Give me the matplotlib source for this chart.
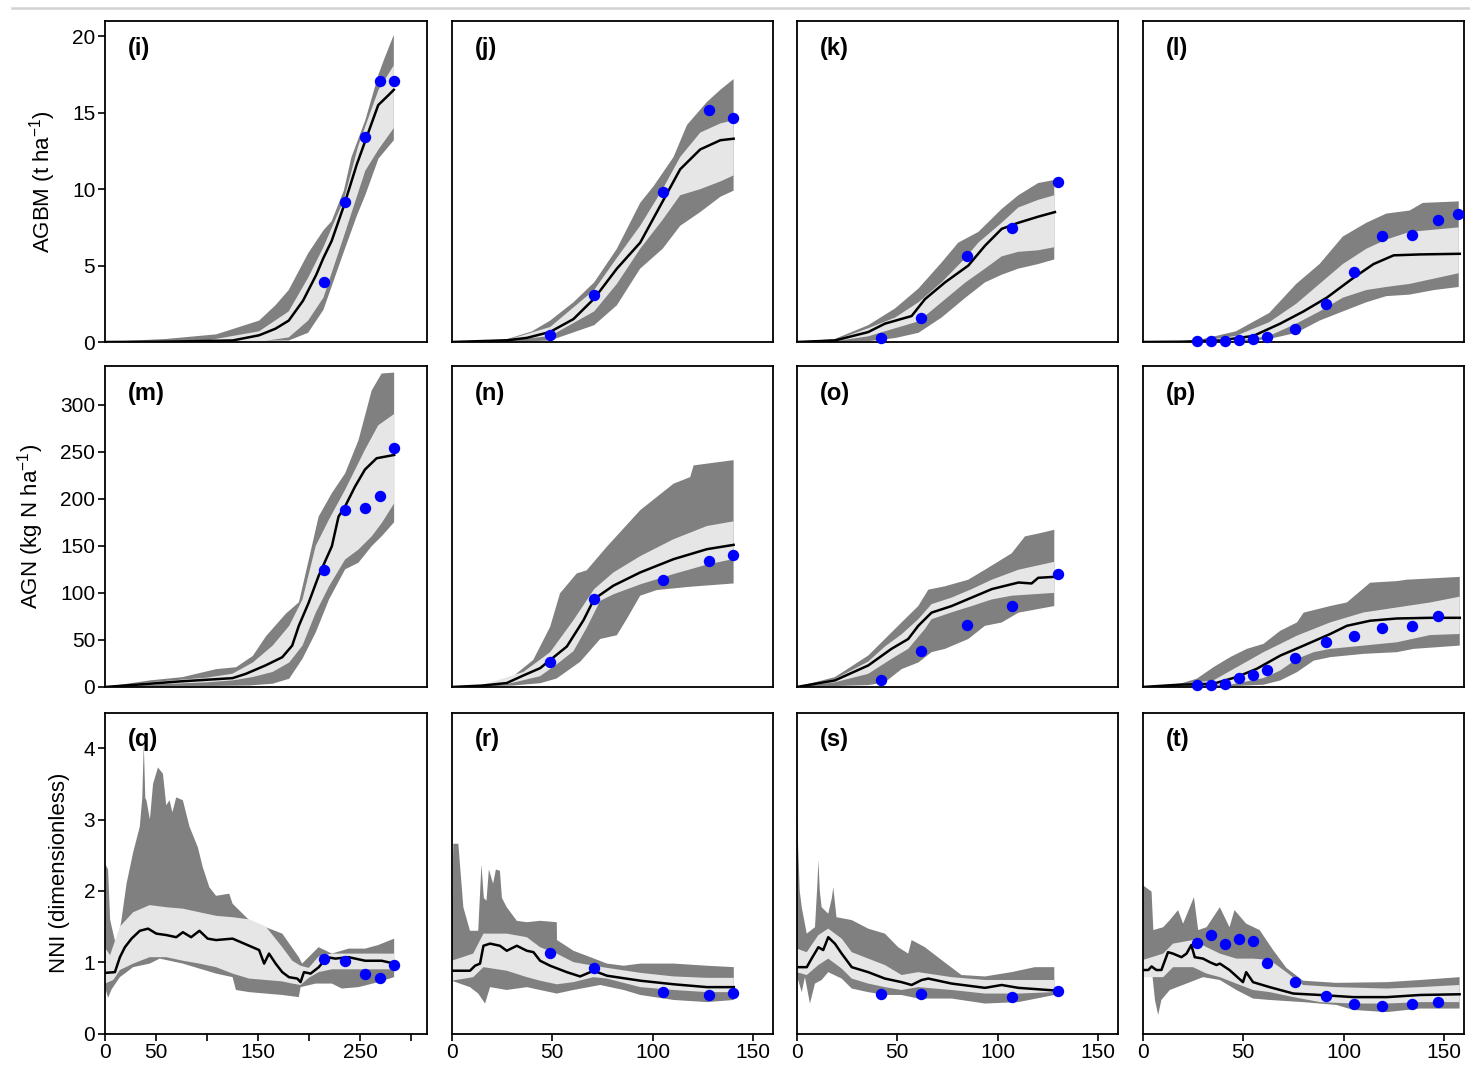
import matplotlib
matplotlib.use('Agg')
import matplotlib.pyplot as plt
from matplotlib.lines import Line2D

plt.rcParams['font.family'] = ['Liberation Sans', 'DejaVu Sans']
plt.rcParams['mathtext.fontset'] = 'custom'
plt.rcParams['mathtext.rm'] = 'Liberation Sans'
plt.rcParams['mathtext.it'] = 'Liberation Sans:italic'

# ---------------- data (day, value) ----------------
# observation days per column
obs_day_c1 = [215, 235, 255, 269, 283]
obs_day_c2 = [49, 71, 105, 128, 140]
obs_day_c3 = [42, 62, 85, 107, 130]
obs_day_s = [42, 62, 107, 130]
obs_day_c4 = [27, 34, 41, 48, 55, 62, 76, 91, 105, 119, 134, 147, 157]

# ---- AGBM (t/ha) ----
i_obs = [3.9, 9.15, 13.4, 17.1, 17.1]
i_mean = [(0, 0), (60, 0.02), (125, 0.1), (151, 0.44), (167, 0.87), (180, 1.4), (194, 2.7), (207, 4.4),
          (214, 5.5), (222, 6.6), (234, 8.9), (246.6, 11.6), (254.7, 13.1), (267.7, 15.5), (277, 16.1), (283, 16.5)]
i_out_hi = [(0, 0), (60, 0.2), (109, 0.5), (151, 1.4), (167, 2.4), (180, 3.4), (199, 5.8), (214, 7.3), (222, 7.9),
            (234, 9.9), (241.5, 12.1), (255, 14.5), (268, 17.5), (273.5, 18.5), (283, 20.1)]
i_out_lo = [(0, 0), (180, 0.1), (199, 0.6), (214, 2.1), (234, 5.9), (247, 8.3), (255, 9.6), (268, 12.0), (283, 13.2)]
i_in_hi = [(0, 0), (100, 0.1), (151, 0.7), (180, 2.0), (199, 4.2), (214, 6.2), (234, 9.3), (248, 12.8),
           (268, 16.5), (283, 18.1)]
i_in_lo = [(0, 0), (150, 0.0), (180, 0.3), (199, 1.4), (214, 2.9), (234, 6.9), (255, 11.2), (268, 12.6), (283, 14.0)]

j_obs = [0.48, 3.05, 9.8, 15.2, 14.67]
j_mean = [(0, 0), (27.4, 0.11), (37.4, 0.27), (49, 0.66), (60.6, 1.5), (70.9, 2.84), (82.2, 4.8), (93.8, 6.5),
          (105, 9.2), (113.7, 11.3), (123.7, 12.6), (133.7, 13.2), (140.3, 13.3)]
j_out_hi = [(0, 0), (27.4, 0.18), (40, 0.7), (49, 1.4), (60.6, 2.6), (70.9, 3.9), (82.2, 6.1), (93.8, 9.1),
            (100.5, 10.2), (110.4, 12.1), (117.1, 14.2), (127, 15.7), (133.7, 16.5), (140.3, 17.2)]
j_in_hi = [(0, 0), (27.4, 0.13), (49, 0.98), (70.9, 3.4), (82.2, 5.5), (93.8, 7.6), (105, 10.0), (113.7, 12.1),
           (123.7, 13.7), (133.7, 14.3), (140.3, 14.5)]
j_in_lo = [(0, 0), (27.4, 0.08), (49, 0.39), (70.9, 2.0), (82.2, 3.8), (93.8, 6.1), (105, 8.0), (113.7, 9.6),
           (123.7, 10.0), (133.7, 10.5), (140.3, 10.9)]
j_out_lo = [(0, 0), (40, 0.05), (49, 0.1), (70.9, 1.1), (82.2, 2.4), (93.8, 4.8), (105, 6.1), (113.7, 7.6),
            (123.7, 8.5), (133.7, 9.5), (140.3, 9.9)]

k_obs = [0.26, 1.57, 5.6, 7.45, 10.46]
k_mean = [(0, 0), (19, 0.1), (35.6, 0.65), (43.9, 1.2), (57.2, 1.7), (63.8, 2.8), (73.8, 3.9), (85.4, 5.0),
          (93.7, 6.3), (102, 7.4), (110.3, 7.8), (120.2, 8.2), (128.5, 8.5)]
k_out_hi = [(0, 0), (19, 0.2), (35.6, 1.1), (49, 2.2), (60.6, 3.5), (72.1, 5.2), (80.4, 6.5), (90.4, 7.2),
            (102, 8.7), (110.3, 9.6), (120.2, 10.4), (128.2, 10.6)]
k_in_hi = [(0, 0), (19, 0.12), (35.6, 0.9), (49, 1.6), (60.6, 2.6), (72.1, 3.9), (84, 5.5), (90.4, 6.5),
           (102, 7.8), (110.3, 8.8), (120.2, 9.3), (128.2, 9.6)]
k_in_lo = [(0, 0), (19, 0.05), (35.6, 0.37), (49, 0.9), (60.6, 1.35), (72.1, 2.6), (84, 3.9), (93.7, 4.8),
           (102, 5.6), (110.3, 5.9), (120.2, 6.0), (128.2, 6.2)]
k_out_lo = [(0, 0), (35.6, 0.05), (49, 0.26), (60.6, 0.6), (72.1, 1.6), (84, 2.9), (93.7, 3.9), (102, 4.4),
            (110.3, 4.8), (120.2, 5.1), (128.2, 5.4)]

l_obs = [0.04, 0.04, 0.09, 0.13, 0.2, 0.3, 0.85, 2.5, 4.6, 6.94, 7.0, 7.96, 8.4]
l_mean = [(0, 0), (20, 0.02), (38.5, 0.1), (55.1, 0.4), (68.4, 1.2), (80, 2.0), (91.6, 2.9), (104.9, 4.2),
          (114.9, 5.1), (124.9, 5.67), (138.2, 5.73), (157.8, 5.77)]
l_out_hi = [(0, 0), (26.9, 0.1), (46.4, 0.7), (63, 1.9), (76.4, 3.8), (88, 5.1), (99.6, 6.9), (111.3, 7.8),
            (121.2, 8.4), (132.8, 8.6), (139.4, 9.1), (157.3, 9.2)]
l_in_hi = [(0, 0), (30, 0.08), (46.4, 0.4), (63, 1.3), (76.4, 2.5), (88, 3.8), (99.6, 5.1), (111.3, 6.1),
           (121.2, 6.7), (132.8, 7.2), (157.3, 7.5)]
l_in_lo = [(0, 0), (46.4, 0.05), (63, 0.4), (76.4, 1.2), (88, 2.0), (99.6, 2.9), (111.3, 3.4), (121.2, 3.6),
           (132.8, 3.8), (157.3, 4.5)]
l_out_lo = [(0, 0), (50, 0.03), (63, 0.2), (76.4, 0.6), (88, 1.4), (99.6, 2.0), (111.3, 2.6), (121.2, 3.0),
            (132.8, 3.1), (145, 3.4), (157.3, 3.6)]

# ---- AGN (kg N/ha) ----
m_obs = [123.9, 187.6, 189.7, 202.4, 253.5]
m_mean = [(0, 0), (43.8, 3.5), (73, 5.9), (124.9, 9.4), (138, 14), (157.4, 23), (173.6, 31.6), (183.4, 44),
          (189.9, 65), (199.6, 89.7), (209.3, 118), (222.3, 149.6), (228.8, 181), (235.3, 192), (245, 213),
          (254.7, 231), (266.1, 243), (283.3, 246.5)]
m_out_hi = [(0, 0), (43.8, 7), (76, 10.5), (109, 19), (128.5, 21), (144.8, 33), (157.8, 54), (177.3, 78),
            (190, 90), (199.6, 135), (209.3, 181), (222.3, 206), (235.3, 227), (248.3, 262), (261.3, 315),
            (271, 333), (283.3, 334)]
m_in_hi = [(0, 0), (43.8, 5), (100, 10), (124.9, 14.1), (144.8, 26), (164.3, 44), (180.5, 65), (193.5, 93),
           (206.5, 150), (219.5, 178), (235.3, 209.6), (254.7, 252), (267.7, 278), (283.3, 290)]
m_in_lo = [(0, 0), (43.8, 2.5), (100, 5), (124.9, 7), (144.8, 10.6), (164.3, 16), (180.5, 26), (193.5, 44),
           (206.5, 79), (219.5, 107), (235.3, 135.5), (248.3, 146), (261.3, 160), (271, 174), (283.3, 195)]
m_out_lo = [(0, 0), (100, 1), (141.6, 1.6), (164.3, 3.5), (180.5, 8.8), (193.5, 30), (206.5, 58), (219.5, 93),
            (235.3, 125), (248.3, 132), (261.3, 149.6), (271, 160), (283.3, 175)]

n_obs = [27, 94, 113.3, 133.7, 139.8]
n_mean = [(0, 0), (15, 1.5), (27.4, 4.2), (35.7, 12.3), (44, 20), (57.3, 43), (65.6, 71), (70.9, 93.5),
          (80.5, 107.7), (93.8, 121.7), (110.4, 135.8), (127, 146.4), (140.3, 151)]
n_out_hi = [(0, 0), (15, 2), (27.4, 5.9), (40.6, 28.8), (49, 64), (53.9, 99.5), (62.2, 120.6), (67.2, 124),
            (77.2, 149), (93.8, 187.8), (110.4, 216), (118.7, 223), (120.4, 235.4), (140.3, 241)]
n_in_hi = [(0, 0), (15, 1.8), (35.7, 16), (49, 37), (60.6, 71), (70.9, 104), (80.5, 121.7), (93.8, 139),
           (110.4, 157), (127, 171), (140.3, 176)]
n_in_lo = [(0, 0), (15, 1), (27.4, 3), (44, 11.5), (52.2, 24), (60.6, 38), (67.2, 63), (73.9, 91.5),
           (80.5, 98.5), (93.8, 109), (110.4, 120), (127, 130), (140.3, 136)]
n_out_lo = [(0, 0), (30, 1.5), (44, 4), (52.2, 9), (63.9, 26.7), (73.9, 51), (82.2, 55), (87.2, 72.5),
            (93.8, 97), (102.1, 103), (118.7, 106.5), (140.3, 110)]

o_obs = [7, 38.7, 66.2, 86.2, 119.7]
o_mean = [(0, 0), (19, 7), (35.6, 22.9), (47.2, 40.6), (55.5, 51), (60.5, 65), (67.1, 79), (77.1, 86),
          (87.1, 95), (97.1, 104), (110.4, 111), (116.9, 110), (120.2, 116), (128.2, 117)]
o_out_hi = [(0, 0), (19, 10.5), (35.6, 33.4), (43.9, 51), (52.2, 68.6), (60.5, 86), (65.5, 103.4), (73.8, 107),
            (85.4, 114), (93.7, 124.6), (107, 142), (113.6, 160), (120.2, 163), (128.2, 167)]
o_in_hi = [(0, 0), (19, 8.5), (35.6, 27), (43.9, 43), (52.2, 56), (60.5, 72), (67.1, 88), (77.1, 95),
           (87.1, 104), (97.1, 114), (110.4, 124.6), (128.2, 133)]
o_in_lo = [(0, 0), (19, 5), (35.6, 14), (47.2, 29.9), (55.5, 40.5), (63.8, 61.6), (67.1, 72), (77.1, 79.3),
           (87.1, 86), (97.1, 93), (107, 97), (128.2, 100)]
o_out_lo = [(0, 0), (19, 1), (35.6, 2), (43.9, 5), (52.2, 19), (60.5, 26), (67.1, 37), (73.8, 40.5),
            (85.4, 51), (93.7, 65), (102, 68.5), (110.4, 79), (128.2, 86)]

p_obs = [2.4, 2.4, 3.5, 9.5, 12.3, 17.6, 30.6, 48.2, 53.8, 62.9, 64.4, 75.6]
p_mean = [(0, 0), (18.6, 2.5), (35.2, 3.5), (46.8, 10.6), (56.8, 19.4), (68.5, 33.4), (80.1, 44), (93.3, 56.3),
          (101.6, 65), (113.2, 70.4), (126.5, 72.8), (143.1, 73.5), (157.8, 73.5)]
p_out_hi = [(0, 0), (18.6, 3.5), (26.9, 8.8), (35.2, 21), (43.5, 31.7), (51.8, 40.5), (60.1, 45.8),
            (68.5, 59.8), (76.8, 68.6), (80.1, 79), (93.3, 86), (101.6, 89.8), (113.2, 110.8), (126.5, 112.5),
            (131.5, 114), (157.8, 117)]
p_in_hi = [(0, 0), (18.6, 3), (35.2, 7), (46.8, 21), (60.1, 37), (68.5, 45.8), (76.8, 54.6), (93.3, 68.6),
           (109.9, 79.2), (126.5, 84.5), (143.1, 89.8), (157.8, 96)]
p_in_lo = [(0, 0), (18.6, 2), (35.2, 2.4), (43.5, 2.4), (60.1, 9.5), (68.5, 17.6), (76.8, 30), (85.1, 37),
           (93.3, 40.5), (109.9, 44), (126.5, 47.5), (143.1, 55.2), (157.8, 56.3)]
p_out_lo = [(0, 0), (40, 0.5), (60.1, 2.4), (68.5, 7), (76.8, 15.8), (85.1, 28), (93.3, 31.7), (109.9, 35.2),
            (126.5, 37), (134.8, 40.5), (157.8, 44)]

# ---- NNI (dimensionless) ----
q_obs = [1.05, 1.01, 0.83, 0.78, 0.96]
q_mean = [(0, 0.85), (9.7, 0.86), (14.6, 1.07), (19.5, 1.21), (26, 1.33), (34.1, 1.44), (42.2, 1.47),
          (50.3, 1.4), (60.1, 1.38), (69.8, 1.35), (76.3, 1.42), (84.4, 1.35), (92.5, 1.44), (100.6, 1.33),
          (108.8, 1.31), (125, 1.33), (136.4, 1.26), (144.5, 1.21), (151, 1.17), (155.9, 0.98), (160.7, 1.12),
          (167.2, 0.98), (173.7, 0.86), (180.2, 0.79), (188.4, 0.77), (191.6, 0.72), (194.9, 0.86),
          (201.4, 0.84), (209.5, 0.93), (217.6, 1.07), (225.7, 1.05), (238.7, 1.07), (254.9, 1.02),
          (271.1, 1.02), (283.3, 0.98)]
q_out_hi = [(0, 2.38), (3, 2.3), (5, 1.6), (6.5, 1.5), (11.4, 1.2), (16.2, 1.6), (21.1, 2.1), (27.6, 2.54),
            (34.1, 2.9), (36.5, 3.3), (38, 4.06), (39.5, 3.3), (40.6, 3.27), (44, 3.0), (47.1, 3.5),
            (51.9, 3.73), (56.8, 3.64), (60, 3.2), (63.3, 3.27), (66, 3.1), (69.8, 3.31), (76.3, 3.27),
            (82.8, 2.9), (91, 2.61), (95.8, 2.33), (102.3, 2.05), (108.8, 1.93), (121.7, 1.96), (125, 1.82),
            (141.2, 1.59), (157.5, 1.49), (173.7, 1.4), (189.9, 1.07), (193.1, 0.98), (209.3, 1.21),
            (222.3, 1.12), (238.7, 1.19), (254.9, 1.19), (267.7, 1.24), (283.3, 1.33)]
q_in_hi = [(0, 1.2), (5, 1.1), (14.6, 1.5), (27.6, 1.7), (43.8, 1.8), (60.1, 1.77), (76.3, 1.75), (92.5, 1.7),
           (108.8, 1.65), (125, 1.63), (141.2, 1.6), (157.5, 1.5), (173.7, 1.21), (183.5, 1.02), (191.6, 0.95),
           (199.6, 0.92), (209.3, 1.08), (222.3, 1.12), (254.9, 1.12), (283.3, 1.12)]
q_in_lo = [(0, 0.7), (8.1, 0.75), (14.6, 0.89), (27.6, 0.98), (43.8, 1.07), (60.1, 1.07), (76.3, 1.02),
           (92.5, 0.98), (108.8, 0.93), (125, 0.84), (141.2, 0.77), (157.5, 0.75), (173.7, 0.73), (183.5, 0.7),
           (191.6, 0.68), (199.6, 0.78), (209.3, 0.86), (222.3, 0.9), (254.9, 0.9), (283.3, 0.9)]
q_out_lo = [(0, 0.65), (3, 0.5), (6.5, 0.62), (14.6, 0.79), (27.6, 0.93), (43.8, 0.98), (53.6, 1.05),
            (76.3, 0.98), (92.5, 0.91), (108.8, 0.84), (125, 0.79), (128.3, 0.61), (141.2, 0.58), (157.5, 0.56),
            (173.7, 0.54), (189.9, 0.51), (191.6, 0.65), (206.5, 0.7), (222.3, 0.7), (232, 0.63), (248.4, 0.65),
            (267.7, 0.72), (283.3, 0.79)]

r_obs = [1.13, 0.92, 0.58, 0.54, 0.57]
r_mean = [(0, 0.88), (9.1, 0.88), (11.6, 0.95), (14.1, 0.98), (15.8, 1.23), (19.1, 1.26), (24, 1.23),
          (27.4, 1.16), (32.4, 1.23), (37.4, 1.16), (40.7, 1.14), (44, 1.02), (49, 0.95), (57.3, 0.86),
          (63.9, 0.8), (70.6, 0.88), (77.3, 0.81), (93.9, 0.74), (110.5, 0.69), (127.1, 0.65), (140.4, 0.65)]
r_out_hi = [(0, 1.5), (0.8, 2.66), (3.3, 2.66), (5.8, 1.77), (9.1, 1.44), (13.2, 1.44), (14.8, 2.37), (16, 1.9),
            (17.3, 1.86), (18.5, 2.3), (20.6, 2.1), (22, 2.3), (24, 2.28), (25, 1.9), (27.4, 1.77), (32.4, 1.58),
            (37.4, 1.56), (44, 1.58), (52.3, 1.56), (52.4, 1.31), (60.6, 1.16), (69, 1.07), (77.3, 0.98),
            (85.6, 0.95), (93.9, 0.98), (110.5, 0.98), (127.1, 0.95), (140.4, 0.93)]
r_in_hi = [(0, 1.02), (10.7, 1.12), (15.8, 1.4), (27.4, 1.4), (37.4, 1.35), (44, 1.21), (52.3, 1.12),
           (60.6, 1.0), (70.6, 0.95), (77.3, 0.92), (93.9, 0.85), (110.5, 0.8), (127.1, 0.78), (140.4, 0.78)]
r_in_lo = [(0, 0.74), (10.7, 0.79), (15.8, 0.93), (27.4, 0.88), (37.4, 0.79), (44, 0.74), (52.3, 0.69),
           (60.6, 0.72), (70.6, 0.79), (77.3, 0.77), (93.9, 0.65), (110.5, 0.61), (127.1, 0.58), (140.4, 0.58)]
r_out_lo = [(0, 0.74), (9.1, 0.65), (13.2, 0.56), (16.6, 0.42), (19.1, 0.65), (27.4, 0.61), (37.4, 0.65),
            (44, 0.61), (52.3, 0.56), (60.6, 0.61), (73.9, 0.68), (85.6, 0.61), (93.9, 0.54), (110.5, 0.47),
            (127.1, 0.44), (140.4, 0.47)]

s_obs = [0.56, 0.55, 0.51, 0.6]
s_mean = [(0, 0.93), (5, 0.93), (7.4, 1.05), (10.8, 1.21), (13.2, 1.17), (15.7, 1.35), (19, 1.26), (22.4, 1.12),
          (27.4, 0.93), (35.6, 0.86), (43.9, 0.77), (52.2, 0.72), (57.2, 0.68), (62.2, 0.75), (65.5, 0.77),
          (77.1, 0.7), (93.7, 0.64), (102, 0.68), (110.3, 0.64), (129.9, 0.6)]
s_out_hi = [(0, 3.2), (1.5, 2.0), (2.5, 1.77), (5, 1.4), (9.1, 1.49), (10.3, 2.1), (10.8, 2.43), (11.5, 2.0),
            (12.4, 1.77), (15.7, 1.68), (17.5, 1.9), (18.2, 2.05), (19.8, 1.63), (27.4, 1.59), (35.6, 1.47),
            (43.9, 1.4), (50.5, 1.21), (55.5, 1.12), (57.2, 1.31), (63.8, 1.21), (72.1, 1.03), (82, 0.82),
            (93.7, 0.8), (106.9, 0.86), (118.5, 0.93), (128.2, 0.93)]
s_in_hi = [(0, 1.19), (5, 1.14), (10.8, 1.38), (15.7, 1.47), (22.4, 1.33), (27.4, 1.14), (35.6, 1.05),
           (43.9, 0.96), (52.2, 0.82), (60.5, 0.86), (77.1, 0.79), (93.7, 0.75), (110.3, 0.75), (128.2, 0.75)]
s_in_lo = [(0, 0.86), (5, 0.82), (10.8, 0.96), (15.7, 1.05), (22.4, 0.91), (27.4, 0.77), (35.6, 0.7),
           (43.9, 0.65), (52.2, 0.61), (60.5, 0.65), (77.1, 0.61), (93.7, 0.56), (110.3, 0.56), (128.2, 0.58)]
s_out_lo = [(0, 0.82), (2.5, 0.58), (4.1, 0.79), (6.6, 0.42), (9.1, 0.7), (12.4, 0.75), (15.7, 0.86),
            (22.4, 0.77), (27.4, 0.63), (35.6, 0.58), (43.9, 0.54), (52.2, 0.54), (60.5, 0.49), (77.1, 0.49),
            (93.7, 0.42), (110.3, 0.44), (128.2, 0.54)]

t_obs = [1.27, 1.38, 1.26, 1.32, 1.30, 0.99, 0.72, 0.53, 0.42, 0.39, 0.41, 0.44]
t_mean = [(0, 0.89), (2.8, 0.89), (4.4, 0.94), (6.8, 0.89), (9.3, 0.89), (12.6, 1.14), (15.1, 1.12),
          (19.3, 1.07), (21.8, 1.12), (24.2, 1.24), (25.9, 1.07), (30, 1.05), (33.4, 1.0), (36.7, 0.96),
          (38.4, 0.98), (43.2, 0.89), (49.9, 0.72), (51.5, 0.86), (54.9, 0.72), (63.2, 0.65), (75, 0.56),
          (88.3, 0.54), (104.9, 0.51), (121.5, 0.51), (138.1, 0.54), (157.7, 0.55)]
t_out_hi = [(0, 2.08), (4.4, 1.99), (5.3, 1.45), (10.2, 1.49), (13.5, 1.59), (17.6, 1.73), (20.1, 1.54),
            (25.5, 1.91), (27.6, 1.45), (31.8, 1.49), (38.4, 1.77), (43.2, 1.49), (45.7, 1.73), (51.5, 1.54),
            (58.2, 1.45), (64.9, 1.17), (71.5, 0.92), (79.8, 0.74), (96.4, 0.71), (121.5, 0.72),
            (138.1, 0.75), (157.7, 0.79)]
t_in_hi = [(0, 1.03), (10.2, 1.12), (15.1, 1.26), (25, 1.31), (31.8, 1.21), (38.4, 1.12), (46.6, 1.05),
           (54.9, 1.05), (63.2, 1.03), (71.5, 0.86), (79.8, 0.68), (96.4, 0.65), (121.5, 0.63), (138.1, 0.65),
           (157.7, 0.68)]
t_in_lo = [(0, 0.79), (10.2, 0.79), (15.1, 0.93), (25, 0.93), (31.8, 0.84), (38.4, 0.79), (46.6, 0.7),
           (54.9, 0.61), (63.2, 0.58), (75, 0.51), (88.3, 0.44), (104.9, 0.42), (121.5, 0.42), (138.1, 0.44),
           (157.7, 0.44)]
t_out_lo = [(0, 0.89), (4.4, 0.93), (6.1, 0.47), (7.7, 0.26), (9.3, 0.47), (13.5, 0.61), (21.8, 0.7),
            (30, 0.79), (38.4, 0.75), (46.6, 0.61), (54.9, 0.49), (63.2, 0.47), (79.8, 0.44), (96.4, 0.4),
            (104.9, 0.33), (121.5, 0.3), (138.1, 0.35), (157.7, 0.35)]

panel_letters = ['(i)', '(j)', '(k)', '(l)', '(m)', '(n)', '(o)', '(p)', '(q)', '(r)', '(s)', '(t)']
y_labels = ['AGBM (t ha$^{-1}$)', 'AGN (kg N ha$^{-1}$)', 'NNI (dimensionless)']
y_ticks = [[0, 5, 10, 15, 20], [0, 50, 100, 150, 200, 250, 300], [0, 1, 2, 3, 4]]
y_lims = [(0, 21), (0, 341), (0, 4.5)]
x_ticks_c1 = [0, 50, 100, 150, 200, 250, 300]
x_ticklabels_c1 = ['0', '50', '', '150', '', '250', '']
x_ticks_other = [0, 50, 100, 150]

DARK = '#808080'
LIGHT = '#e6e6e6'
BLUE = '#0000ff'

panels = [
    (i_out_hi, i_out_lo, i_in_hi, i_in_lo, i_mean, obs_day_c1, i_obs),
    (j_out_hi, j_out_lo, j_in_hi, j_in_lo, j_mean, obs_day_c2, j_obs),
    (k_out_hi, k_out_lo, k_in_hi, k_in_lo, k_mean, obs_day_c3, k_obs),
    (l_out_hi, l_out_lo, l_in_hi, l_in_lo, l_mean, obs_day_c4, l_obs),
    (m_out_hi, m_out_lo, m_in_hi, m_in_lo, m_mean, obs_day_c1, m_obs),
    (n_out_hi, n_out_lo, n_in_hi, n_in_lo, n_mean, obs_day_c2, n_obs),
    (o_out_hi, o_out_lo, o_in_hi, o_in_lo, o_mean, obs_day_c3, o_obs),
    (p_out_hi, p_out_lo, p_in_hi, p_in_lo, p_mean, obs_day_c4[:12], p_obs),
    (q_out_hi, q_out_lo, q_in_hi, q_in_lo, q_mean, obs_day_c1, q_obs),
    (r_out_hi, r_out_lo, r_in_hi, r_in_lo, r_mean, obs_day_c2, r_obs),
    (s_out_hi, s_out_lo, s_in_hi, s_in_lo, s_mean, obs_day_s, s_obs),
    (t_out_hi, t_out_lo, t_in_hi, t_in_lo, t_mean, obs_day_c4[:12], t_obs),
]


def split(pts):
    return [p[0] for p in pts], [p[1] for p in pts]


W, H = 1470, 1065
fig = plt.figure(figsize=(W / 100, H / 100), dpi=100)
fig.add_artist(Line2D([12 / W, 1.0], [1 - 8 / H, 1 - 8 / H], color='#d2d2d2', lw=1.8))

col_left = [105, 451.7, 796.7, 1142.7]
row_top = [21, 366, 712.5]
aw, ah = 321.5, 321

for idx, (ohi, olo, ihi, ilo, mean, od, ov) in enumerate(panels):
    r, c = divmod(idx, 4)
    ax = fig.add_axes([col_left[c] / W, 1 - (row_top[r] + ah) / H, aw / W, ah / H])
    for hi, lo, colr in [(ohi, olo, DARK), (ihi, ilo, LIGHT)]:
        hx, hy = split(hi)
        lx, ly = split(lo)
        ax.fill(hx + lx[::-1], hy + ly[::-1], color=colr, lw=0, zorder=1)
    mx, my = split(mean)
    ax.plot(mx, my, color='black', lw=1.8, zorder=3)
    ax.plot(od, ov, 'o', color=BLUE, ms=8.2, mec='none', zorder=4, clip_on=False)

    ax.set_xlim(0, 315 if c == 0 else 160)
    ax.set_ylim(*y_lims[r])
    for sp in ax.spines.values():
        sp.set_linewidth(1.3)
        sp.set_color('black')
    ax.tick_params(direction='out', length=5, width=1.2, labelsize=15, pad=2, colors='black')
    if c == 0:
        ax.set_yticks(y_ticks[r])
        ax.set_ylabel(y_labels[r], fontsize=16, labelpad=10)
    else:
        ax.set_yticks([])
    if r == 2:
        if c == 0:
            ax.set_xticks(x_ticks_c1)
            ax.set_xticklabels(x_ticklabels_c1)
        else:
            ax.set_xticks(x_ticks_other)
    else:
        ax.set_xticks([])
    ax.text(0.072, 0.915, panel_letters[idx], transform=ax.transAxes, fontsize=17,
            fontweight='bold', ha='left', va='center', zorder=5)

fig.savefig('out.png', dpi=100)
